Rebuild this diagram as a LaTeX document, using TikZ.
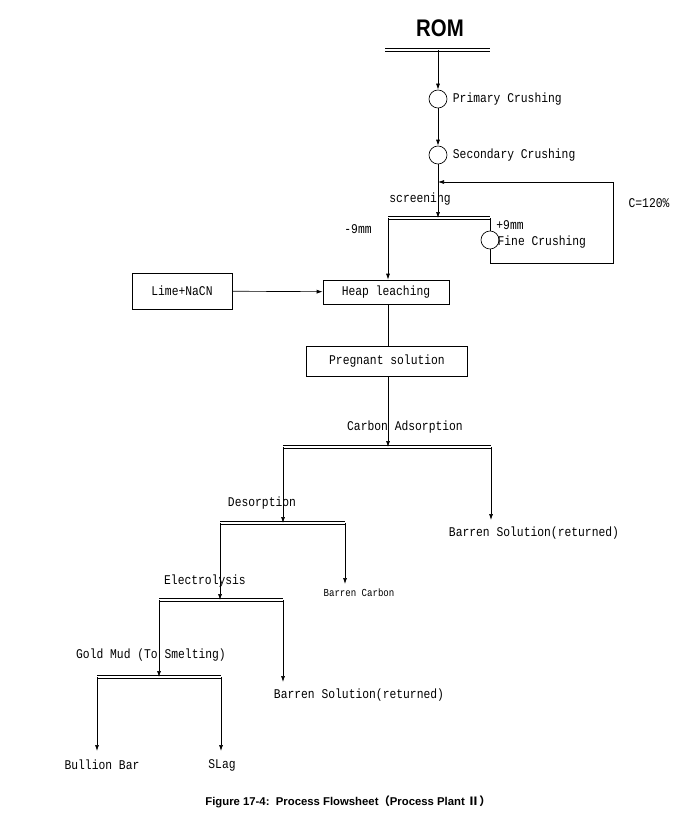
\documentclass[tikz,border=0pt]{standalone}
\usepackage{fontspec}
\setmainfont{Liberation Mono}[FakeStretch=0.85]
\newfontfamily\capfont{Liberation Sans}
\newfontfamily\cjk{Noto Sans CJK SC}
\usetikzlibrary{arrows.meta,positioning}
\begin{document}
\begin{tikzpicture}
	[x=0.75pt,y=-0.75pt,
		flow/.style={-{Latex[length=4.5pt,width=3pt]},line width=0.5pt},
		line/.style={line width=0.5pt},
		bar/.style={double,double distance=1.6pt,line width=0.5pt},
		crusher/.style={circle,draw,line width=0.5pt,minimum size=13.5pt,inner sep=0pt},
		box/.style={rectangle,draw,line width=0.5pt,inner sep=2pt,font=\fontsize{10}{12}\selectfont},
		lbl/.style={font=\fontsize{10}{12}\selectfont,inner sep=1pt},
	]
	\useasboundingbox (0,0) rectangle (697,824);

	\node [font=\capfont\bfseries\fontsize{18}{20}\selectfont,xscale=0.85] (rom) at (440,28) {ROM};
	\coordinate (romL) at (385,50); \coordinate (romR) at (490,50);
	\draw[bar] (romL) -- (romR);

	\node[crusher] (primary) at (438,99) {};
	\node[crusher] (secondary) at (438,155) {};
	\node[lbl,right=3pt of primary] (tprimary) {Primary Crushing};
	\node[lbl,right=3pt of secondary] (tsecondary) {Secondary Crushing};
	\draw[flow] (438,50) -- (primary);
	\draw[flow] (primary) -- (secondary);

	% screening
	\coordinate (scrL) at (388,218); \coordinate (scrR) at (490,218);
	\draw[bar] (scrL) -- (scrR);
	\coordinate (scrin) at (438,218);
	\draw[flow] (secondary) -- (scrin);
	\node[lbl] (tscreen) at (420,199) {screening};
	\node[lbl] (tminus) at (358,229) {-9mm};
	\node[lbl] (tplus) at (510,225) {+9mm};
	\node[crusher] (fine) at (490,240) {};
	\node[lbl,anchor=west] (tfine) at (496,242) {Fine Crushing};
	\draw[line] (scrR) -- (fine);
	\coordinate (retA) at (490,263); \coordinate (retB) at (613,263);
	\coordinate (retC) at (613,182); \coordinate (retD) at (438,182);
	\draw[flow] (fine) -- (retA) -- (retB) -- (retC) -- (retD);
	\node[lbl] (tcirc) at (649,203) {C=120\%};

	% leaching
	\node[box,minimum width=126*0.75pt,minimum height=24*0.75pt] (heap) at (386,292) {Heap leaching};
	\node[box,minimum width=100*0.75pt,minimum height=36*0.75pt] (lime) at (182,291) {Lime+NaCN};
	\node[box,minimum width=161*0.75pt,minimum height=30*0.75pt] (pregnant) at (387,361) {Pregnant solution};
	\draw[flow] (scrL) -- (heap.north -| scrL);
	\draw[flow] (lime) -- (heap);
	\draw[line] (heap.south -| scrL) -- (pregnant.north -| scrL);

	% carbon adsorption
	\coordinate (adsL) at (283,447); \coordinate (adsR) at (491,447);
	\draw[bar] (adsL) -- (adsR);
	\draw[flow] (pregnant.south -| scrL) -- (388,447);
	\node[lbl] (tads) at (405,427) {Carbon Adsorption};
	\node[lbl] (barren1) at (534,533) {Barren Solution(returned)};
	\draw[flow] (adsR) -- (491,520);

	% desorption
	\coordinate (desL) at (220,523); \coordinate (desR) at (345,523);
	\draw[bar] (desL) -- (desR);
	\draw[flow] (adsL) -- (283,523);
	\node[lbl] (tdes) at (262,503) {Desorption};
	\node[lbl,font=\fontsize{8}{9}\selectfont] (bcarbon) at (359,593) {Barren Carbon};
	\draw[flow] (desR) -- (345,584);

	% electrolysis
	\coordinate (eleL) at (159,600); \coordinate (eleR) at (283,600);
	\draw[bar] (eleL) -- (eleR);
	\draw[flow] (desL) -- (220,600);
	\node[lbl] (tele) at (205,581) {Electrolysis};
	\node[lbl] (barren2) at (359,695) {Barren Solution(returned)};
	\draw[flow] (eleR) -- (283,682);

	% smelting
	\coordinate (smL) at (97,677); \coordinate (smR) at (221,677);
	\draw[bar] (smL) -- (smR);
	\draw[flow] (eleL) -- (159,677);
	\node[lbl] (tgold) at (151,655) {Gold Mud (To Smelting)};
	\node[lbl] (bullion) at (102,765) {Bullion Bar};
	\node[lbl] (slag) at (222,765) {SLag};
	\draw[flow] (smL) -- (97,751);
	\draw[flow] (smR) -- (221,751);

	\node[font=\capfont\bfseries\fontsize{8.5}{10}\selectfont] (caption) at (348,802)
		{Figure 17-4:\ \ Process Flowsheet{\cjk （}Process Plant {\cjk Ⅱ}{\cjk ）}};
\end{tikzpicture}
\end{document}
